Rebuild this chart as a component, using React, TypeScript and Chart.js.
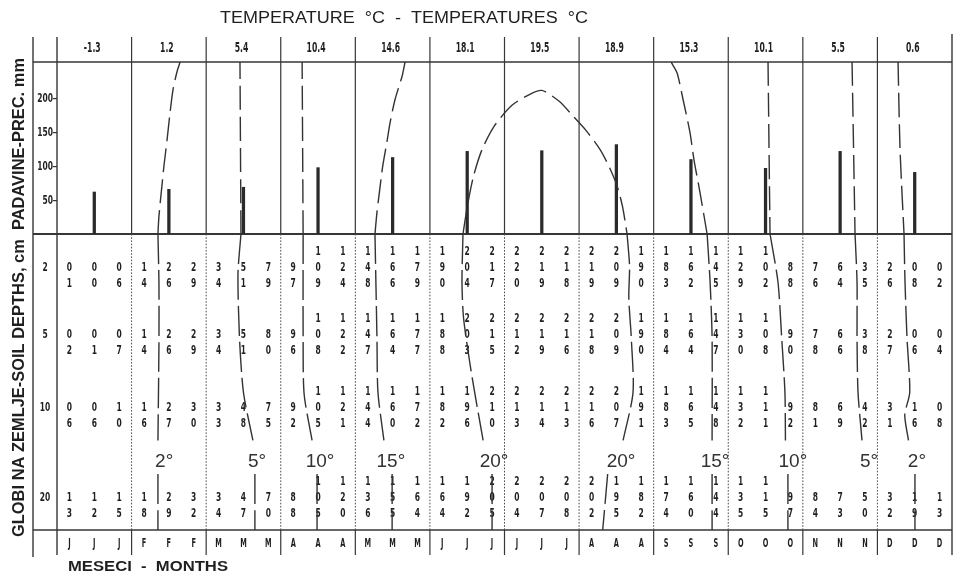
import React, { useEffect, useRef } from 'react';
import { Chart, registerables } from 'chart.js';

Chart.register(...registerables);

// ---------------- DATA ----------------
const monthLetters = ['J', 'F', 'M', 'A', 'M', 'J', 'J', 'A', 'S', 'O', 'N', 'D'];
const airTemperature = [-1.3, 1.2, 5.4, 10.4, 14.6, 18.1, 19.5, 18.9, 15.3, 10.1, 5.5, 0.6];
const precipitation = [62, 66, 69, 98, 113, 122, 123, 132, 110, 97, 122, 91];
const precipTicks = [50, 100, 150, 200];
const soilDepths = [2, 5, 10, 20];

// soil temperature per dekad (3 per month)
const soil2cm = [0.1, 0.0, 0.6, 1.4, 2.6, 2.9, 3.4, 5.1, 7.9, 9.7, 10.9, 12.4, 14.8, 16.6, 17.9, 19.0, 20.4, 21.7, 22.0, 21.9, 21.8, 21.9, 20.9, 19.0, 18.3, 16.2, 14.5, 12.9, 10.2, 8.8, 7.6, 6.4, 3.5, 2.6, 0.8, 0.2];
const soil5cm = [0.2, 0.1, 0.7, 1.4, 2.6, 2.9, 3.4, 5.1, 8.0, 9.6, 10.8, 12.2, 14.7, 16.4, 17.7, 18.8, 20.3, 21.5, 21.2, 21.9, 21.6, 21.8, 20.9, 19.0, 18.4, 16.4, 14.7, 13.0, 10.8, 9.0, 7.8, 6.6, 3.8, 2.7, 0.6, 0.4];
const soil10cm = [0.6, 0.6, 1.0, 1.6, 2.7, 3.0, 3.3, 4.8, 7.5, 9.2, 10.5, 12.1, 14.4, 16.0, 17.2, 18.2, 19.6, 21.0, 21.3, 21.4, 21.3, 21.6, 20.7, 19.1, 18.3, 16.5, 14.8, 13.2, 11.1, 9.2, 8.1, 6.9, 4.2, 3.1, 1.6, 0.8];
const soil20cm = [1.3, 1.2, 1.5, 1.8, 2.9, 3.2, 3.4, 4.7, 7.0, 8.8, 10.5, 12.0, 13.6, 15.5, 16.4, 16.4, 19.2, 20.5, 20.4, 20.7, 20.8, 20.2, 19.5, 18.2, 17.4, 16.0, 14.4, 13.5, 11.5, 9.7, 8.4, 7.3, 5.0, 3.2, 1.9, 1.3];
const soilRows = [soil2cm, soil5cm, soil10cm, soil20cm];

// isotherms: thresholds, upper-panel course [dekad, mm-level], table course [dekad, table line] (null = break)
const isoThresholds = [2, 5, 10, 15, 20, 20, 15, 10, 5, 2];
const isoUpper: [number, number][][] = [
  [[4.06, 0], [4.10, 26], [4.22, 71], [4.30, 100], [4.43, 140], [4.55, 180], [4.67, 214], [4.83, 240], [4.95, 254]],
  [[7.40, 0], [7.36, 254]],
  [[9.90, 0], [9.86, 254]],
  [[12.79, 0], [12.87, 32], [13.0, 71], [13.1, 100], [13.27, 136], [13.4, 165], [13.6, 199], [13.88, 233], [14.0, 254]],
  [[16.33, 0], [16.5, 40], [16.75, 85], [17.1, 125], [17.6, 160], [18.3, 190], [19.0, 206], [19.5, 212], [20.2, 196], [20.76, 174], [21.3, 152], [21.84, 125], [22.2, 100], [22.53, 71], [22.75, 40], [22.93, 0]],
  [[22.93, 0], [22.93, 0]],
  [[24.7, 254], [24.94, 238], [25.18, 199], [25.46, 150], [25.62, 110], [25.86, 62], [26.15, 0]],
  [[28.60, 254], [28.68, 0]],
  [[31.98, 254], [32.10, 0]],
  [[33.83, 254], [33.91, 125], [34.07, 0]],
];
const isoTable: ([number, number] | null)[][] = [
  [[4.06, 0], [4.1, 3], [4.1, 7], [4.06, 12.9], null, [4.06, 15], [4.06, 18.5]],
  [[7.40, 0], [7.28, 2.5], [7.34, 6.5], [7.5, 9.9], [7.88, 12.9], null, [7.96, 15], [7.96, 18.5]],
  [[9.90, 0], [9.90, 6.5], [9.94, 10], [10.26, 12.9], null, [10.46, 15], [10.46, 18.5]],
  [[12.79, 0], [12.87, 6.5], [12.91, 9.9], [13.15, 12.9], null, [13.48, 15], [13.48, 18.5]],
  [[16.33, 0], [16.29, 3], [16.35, 5.2], [16.6, 8], [16.8, 9.9], [17.14, 12.9], null, [17.5, 15], [17.5, 18.5]],
  [[22.93, 0], [23.03, 2], [23.0, 4], [23.1, 6.5], [23.17, 9.9], [22.77, 12.9], null, [22.15, 15], [21.95, 18.5]],
  [[26.15, 0], [26.27, 3], [26.35, 6.5], [26.35, 12.9], null, [26.35, 15], [26.35, 18.5]],
  [[28.68, 0], [29.0, 3], [29.15, 6.5], [29.28, 9.9], [29.3, 12.9], null, [29.4, 15], [29.4, 18.5]],
  [[32.10, 0], [32.18, 3], [32.18, 6.5], [32.22, 9.9], [32.38, 12.9]],
  [[34.07, 0], [34.11, 3], [34.19, 6.5], [34.3, 9.9], [34.1, 11.3], [34.25, 12.9], null, [34.51, 15], [34.51, 18.5]],
];
const isoLabelAt = [4.31, 8.05, 10.58, 13.43, 17.58, 22.69, 26.47, 29.6, 32.66, 34.59];

// ---------------- LAYOUT / STYLE ----------------
const TABLE_LINES = 18.5;
const ROW_ANCHOR = [2.125, 6.3, 10.875, 16.5];
const ISO_LABEL_LINE = 14.25;
const INK = '#1f1f1f';
const LINE = '#363636';
const DIGIT_FONT = 'bold 13px "DejaVu Sans"';
const DIGIT_SX = 0.58;

function drawText(ctx: CanvasRenderingContext2D, s: string, x: number, y: number, font: string,
  o: { sx?: number; align?: CanvasTextAlign; color?: string; rot?: number } = {}) {
  ctx.save();
  ctx.font = font;
  ctx.fillStyle = o.color ?? INK;
  ctx.textAlign = o.align ?? 'center';
  ctx.textBaseline = 'middle';
  ctx.translate(x, y);
  if (o.rot) ctx.rotate(o.rot);
  ctx.scale(o.sx ?? 1, 1);
  ctx.fillText(s, 0, 0);
  ctx.restore();
}
function textWidth(ctx: CanvasRenderingContext2D, s: string, font: string) {
  ctx.save();
  ctx.font = font;
  const w = ctx.measureText(s).width;
  ctx.restore();
  return w;
}
function seg(ctx: CanvasRenderingContext2D, x0: number, y0: number, x1: number, y1: number, w = 1.2, dash: number[] = [], color = LINE) {
  ctx.save();
  ctx.strokeStyle = color;
  ctx.lineWidth = w;
  ctx.setLineDash(dash);
  ctx.beginPath();
  ctx.moveTo(x0, y0);
  ctx.lineTo(x1, y1);
  ctx.stroke();
  ctx.restore();
}

const sheetPlugin = {
  id: 'sheet',
  beforeDatasetsDraw(chart: any) {
    const { ctx, chartArea: a, scales } = chart;
    const xs = scales.x, yP = scales.y, yD = scales.yD;
    const X = (u: number) => xs.getPixelForValue(u);
    const D = (l: number) => yD.getPixelForValue(l);
    const tableTop = D(0);
    const tableBottom = D(TABLE_LINES);
    const outerLeft = a.left - 24;
    const headTop = a.top - 25;
    const rowBottom = tableBottom + 25;

    // frame
    seg(ctx, outerLeft, headTop, outerLeft, rowBottom + 2, 1.4);
    seg(ctx, outerLeft, a.top, a.right, a.top, 1.4);
    seg(ctx, outerLeft, tableTop, a.right, tableTop, 2.2);
    seg(ctx, outerLeft, tableBottom, a.right, tableBottom, 1.5);
    for (let m = 0; m <= 12; m++) {
      const x = X(m * 3);
      if (m === 0 || m === 12) {
        seg(ctx, x, headTop - (m === 12 ? 3 : 0), x, rowBottom, 1.4);
      } else {
        seg(ctx, x, headTop, x, tableTop, 1.2);
        seg(ctx, x, tableTop, x, tableBottom, 1, [1.6, 1.6], '#4a4a4a');
        seg(ctx, x, tableBottom, x, rowBottom, 1.2);
      }
    }

    // title
    const title = 'TEMPERATURE  °C  -  TEMPERATURES  °C';
    const tf = '16px "Liberation Sans"';
    drawText(ctx, title, 220, 19, tf, { align: 'left', sx: 368 / textWidth(ctx, title, tf) });

    // air temperature header
    airTemperature.forEach((t, m) => {
      drawText(ctx, t.toFixed(1), X(m * 3 + 1.5) - 2, (headTop + a.top) / 2 - 1, 'bold 14px "DejaVu Sans"', { sx: 0.55 });
    });

    // precipitation tick labels (from the library's axis ticks)
    yP.ticks.forEach((t: any) => {
      drawText(ctx, String(t.value), a.left - 4, yP.getPixelForValue(t.value), DIGIT_FONT, { sx: DIGIT_SX, align: 'right' });
    });

    // depth labels and soil temperature digits
    soilDepths.forEach((d, r) => {
      drawText(ctx, String(d), outerLeft + 12, D(ROW_ANCHOR[r]), DIGIT_FONT, { sx: DIGIT_SX });
      soilRows[r].forEach((v, i) => {
        const s = v.toFixed(1).replace('.', '');
        const x = X(i + 0.5);
        const n = s.length;
        for (let k = 0; k < n; k++) {
          const line = ROW_ANCHOR[r] + (k - (n - 2));
          drawText(ctx, s[k], x, D(line), DIGIT_FONT, { sx: DIGIT_SX });
        }
      });
    });

    // isotherm labels
    isoThresholds.forEach((t, k) => {
      drawText(ctx, `${t}°`, X(isoLabelAt[k]), D(ISO_LABEL_LINE), '19px "Liberation Sans"', { color: '#333' });
    });

    // month letters
    for (let i = 0; i < 36; i++) {
      drawText(ctx, monthLetters[Math.floor(i / 3)], X(i + 0.5), (tableBottom + rowBottom) / 2 + 1, 'bold 12px "DejaVu Sans"', { sx: 0.55 });
    }
    const mt = 'MESECI  -  MONTHS';
    const mf = 'bold 14px "Liberation Sans"';
    drawText(ctx, mt, 68, 567, mf, { align: 'left', sx: 160 / textWidth(ctx, mt, mf) });

    // rotated axis title
    const vt = 'GLOBI NA ZEMLJE-SOIL DEPTHS, cm  PADAVINE-PREC. mm';
    const vf = 'bold 17px "Liberation Sans"';
    drawText(ctx, vt, 19.5, 537, vf, { align: 'left', rot: -Math.PI / 2, sx: (537 - 58) / textWidth(ctx, vt, vf) });
  },
};

const lineStyle = {
  type: 'line' as const,
  borderColor: '#333',
  borderWidth: 1.4,
  pointRadius: 0,
  fill: false,
  tension: 0.25,
  spanGaps: false,
};

export default function App() {
  const ref = useRef<HTMLCanvasElement>(null);
  useEffect(() => {
    document.body.style.margin = '0';
    const canvas = ref.current!;
    const datasets: any[] = [
      {
        type: 'bar',
        label: 'Padavine',
        data: precipitation.map((v, m) => ({ x: m * 3 + 1.5, y: v })),
        xAxisID: 'x',
        yAxisID: 'y',
        backgroundColor: '#2a2a2a',
        barThickness: 2.6,
        grouped: false,
        order: 3,
      },
      ...isoUpper.map((pts, k) => ({
        ...lineStyle,
        label: `${isoThresholds[k]}° upper`,
        data: pts.map(([x, y]) => ({ x, y })),
        xAxisID: 'x',
        yAxisID: 'y',
        borderDash: [24, 7],
        order: 1,
      })),
      ...isoTable.map((pts, k) => {
        const data: any[] = [];
        let last = 0;
        pts.forEach((p) => {
          if (p) { data.push({ x: p[0], y: p[1] }); last = p[0]; } else data.push({ x: last, y: null });
        });
        return {
          ...lineStyle,
          label: `${isoThresholds[k]}° soil`,
          data,
          xAxisID: 'x',
          yAxisID: 'yD',
          borderDash: [30, 6],
          order: 1,
        };
      }),
    ];
    const chart = new Chart(canvas, {
      type: 'line',
      data: { datasets },
      options: {
        animation: false,
        responsive: true,
        maintainAspectRatio: false,
        events: [],
        layout: { padding: { left: 33, right: 3, top: 62, bottom: 44 } },
        plugins: { legend: { display: false }, tooltip: { enabled: false } },
        scales: {
          x: { type: 'linear', min: 0, max: 36, display: false, offset: false },
          yD: {
            type: 'linear', min: 0, max: TABLE_LINES, reverse: true, position: 'left',
            stack: 'v', stackWeight: 296, display: false,
          },
          y: {
            type: 'linear', min: 0, max: 254, position: 'left', stack: 'v', stackWeight: 172,
            afterBuildTicks: (s: any) => { s.ticks = precipTicks.map((v) => ({ value: v })); },
            afterFit: (s: any) => { s.width = 24; },
            ticks: { display: false },
            border: { display: false },
            grid: { drawOnChartArea: false, drawTicks: true, tickLength: 4, color: '#333', lineWidth: 1.2 },
          },
        },
      } as any,
      plugins: [sheetPlugin],
    });
    return () => chart.destroy();
  }, []);
  return (
    <div style={{ width: 955, height: 574, position: 'relative', background: '#fff' }}>
      <canvas ref={ref} />
    </div>
  );
}
